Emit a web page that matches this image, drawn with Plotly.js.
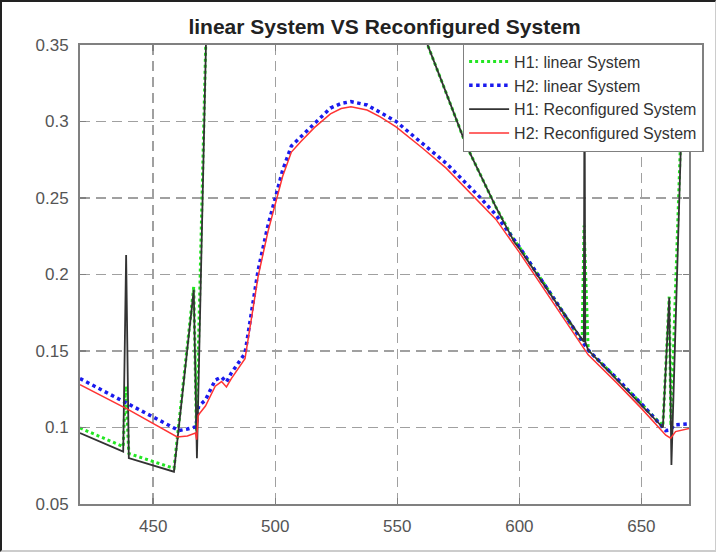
<!DOCTYPE html>
<html><head><meta charset="utf-8">
<script src="https://cdn.plot.ly/plotly-3.0.1.min.js"></script>
<style>
html,body{margin:0;padding:0;background:#fff;}
#wrap{position:relative;width:716px;height:552px;}
#chart{width:716px;height:552px;}
#frame{position:absolute;left:0;top:0;width:716px;height:552px;box-sizing:border-box;border-left:2px solid #222;border-top:2px solid #222;border-right:1px solid #ccc;border-bottom:2px solid #ccc;pointer-events:none;}
</style>
</head><body><div id="wrap"><div id="chart"></div><div id="frame"></div></div>
<script>
// H1: linear System
var xH1lin = [420, 437.7, 438.7, 440, 458.5, 466.6, 467.7, 471.5, 474, 515, 560, 563.3, 568, 578.2, 590.4, 598, 600, 614.7, 625.7, 626.5, 628.2, 640, 650, 658.8, 661.4, 662.1, 666, 669];
var yH1lin = [0.0997, 0.0875, 0.127, 0.083, 0.0733, 0.192, 0.098, 0.35, 0.42, 0.62, 0.36, 0.346, 0.327, 0.2846, 0.244, 0.222, 0.218, 0.1833, 0.156, 0.232, 0.1506, 0.132, 0.1155, 0.101, 0.1855, 0.101, 0.286, 0.38];
// H2: linear System
var xH2lin = [420, 440, 460.5, 464, 467.5, 468.6, 471.4, 475.4, 478, 480, 482, 487.6, 490, 493, 497, 500, 503, 506.6, 510.5, 516, 522.6, 527, 531, 537.6, 543, 549.5, 560, 570, 583.6, 590.4, 600, 614.7, 628.2, 640, 650, 660, 662, 663.4, 670];
var yH2lin = [0.132, 0.1152, 0.098, 0.099, 0.1005, 0.114, 0.118, 0.131, 0.133, 0.1297, 0.1356, 0.1485, 0.173, 0.203, 0.232, 0.251, 0.268, 0.284, 0.290, 0.299, 0.3088, 0.3118, 0.313, 0.3108, 0.306, 0.300, 0.286, 0.2727, 0.2509, 0.239, 0.218, 0.1833, 0.1506, 0.132, 0.1155, 0.098, 0.0985, 0.1016, 0.1025];
// H1: Reconfigured System
var xH1rec = [420, 437.7, 438.9, 440, 458.5, 466.6, 467.9, 471.6, 474, 515, 560, 563.3, 568, 578.2, 590.4, 598, 600, 614.7, 626.4, 626.7, 627.0, 628.2, 640, 650, 658.8, 661.4, 662.3, 666.2, 669];
var yH1rec = [0.0964, 0.0842, 0.2127, 0.080, 0.0711, 0.19, 0.0799, 0.35, 0.42, 0.62, 0.36, 0.346, 0.327, 0.2846, 0.244, 0.221, 0.217, 0.1825, 0.156, 0.34, 0.156, 0.1506, 0.131, 0.115, 0.100, 0.185, 0.0755, 0.286, 0.38];
// H2: Reconfigured System
var xH2rec = [420, 440, 459.8, 464, 467.3, 467.8, 468.4, 471.4, 475.4, 478, 480, 482, 487.6, 490, 493, 497, 500, 503, 506.6, 510.5, 516, 522.6, 527, 531, 537.6, 543, 549.5, 560, 570, 583.6, 590.4, 600, 614.7, 628.2, 640, 650, 660, 662, 664, 670];
var yH2rec = [0.128, 0.1115, 0.0938, 0.0945, 0.0964, 0.092, 0.108, 0.114, 0.127, 0.130, 0.1265, 0.132, 0.145, 0.169, 0.199, 0.228, 0.247, 0.264, 0.280, 0.287, 0.296, 0.305, 0.3085, 0.3097, 0.3075, 0.303, 0.2965, 0.283, 0.2695, 0.2475, 0.236, 0.2145, 0.180, 0.1475, 0.129, 0.1125, 0.095, 0.093, 0.0973, 0.0995];

var xTicks = [450, 500, 550, 600, 650];
var yTicks = [0.05, 0.1, 0.15, 0.2, 0.25, 0.3, 0.35];
var names = ['H1: linear System', 'H2: linear System', 'H1: Reconfigured System', 'H2: Reconfigured System'];
var titleText = 'linear System VS Reconfigured System';

var FONT = 'Liberation Sans, Arial, Helvetica, sans-serif';

var traces = [
  {x: xH1lin, y: yH1lin, name: names[0], mode: 'lines', line: {color: '#22e622', width: 3, dash: 'dot'}},
  {x: xH2lin, y: yH2lin, name: names[1], mode: 'lines', line: {color: '#1a1aee', width: 3.5, dash: 'dot'}},
  {x: xH1rec, y: yH1rec, name: names[2], mode: 'lines', line: {color: '#333333', width: 1.8}},
  {x: xH2rec, y: yH2rec, name: names[3], mode: 'lines', line: {color: '#ff3434', width: 1.5}}
];

var axisCommon = {
  showline: true, linecolor: '#808080', linewidth: 2, mirror: 'ticks',
  ticks: 'inside', ticklen: 6, tickwidth: 1.5, tickcolor: '#808080',
  showgrid: true, gridcolor: '#a0a0a0', gridwidth: 1.5, griddash: '10px,6px',
  zeroline: false, tickfont: {family: FONT, size: 17, color: '#555555'}
};

var layout = {
  width: 716, height: 552,
  margin: {l: 80, r: 21, t: 45, b: 48},
  paper_bgcolor: '#ffffff', plot_bgcolor: '#ffffff',
  title: {text: '<b>' + titleText + '</b>', font: {family: FONT, size: 21, color: '#222222'},
          x: 0.5, xref: 'paper', xanchor: 'center', y: 1 - 27 / 552, yanchor: 'middle'},
  xaxis: Object.assign({}, axisCommon, {range: [420, 669.5], tickvals: xTicks, ticktext: xTicks.map(String), ticklabelstandoff: 6}),
  yaxis: Object.assign({}, axisCommon, {range: [0.05, 0.35], tickvals: yTicks, ticktext: yTicks.map(String), ticklabelstandoff: 6}),
  showlegend: true,
  legend: {x: 1.024, xanchor: 'right', y: 1.004, yanchor: 'top', bgcolor: '#ffffff',
           bordercolor: '#808080', borderwidth: 1.5, itemwidth: 40,
           font: {family: FONT, size: 16, color: '#333333'}, tracegroupgap: 0}
};

Plotly.newPlot('chart', traces, layout, {displayModeBar: false, staticPlot: true});
</script></body></html>
